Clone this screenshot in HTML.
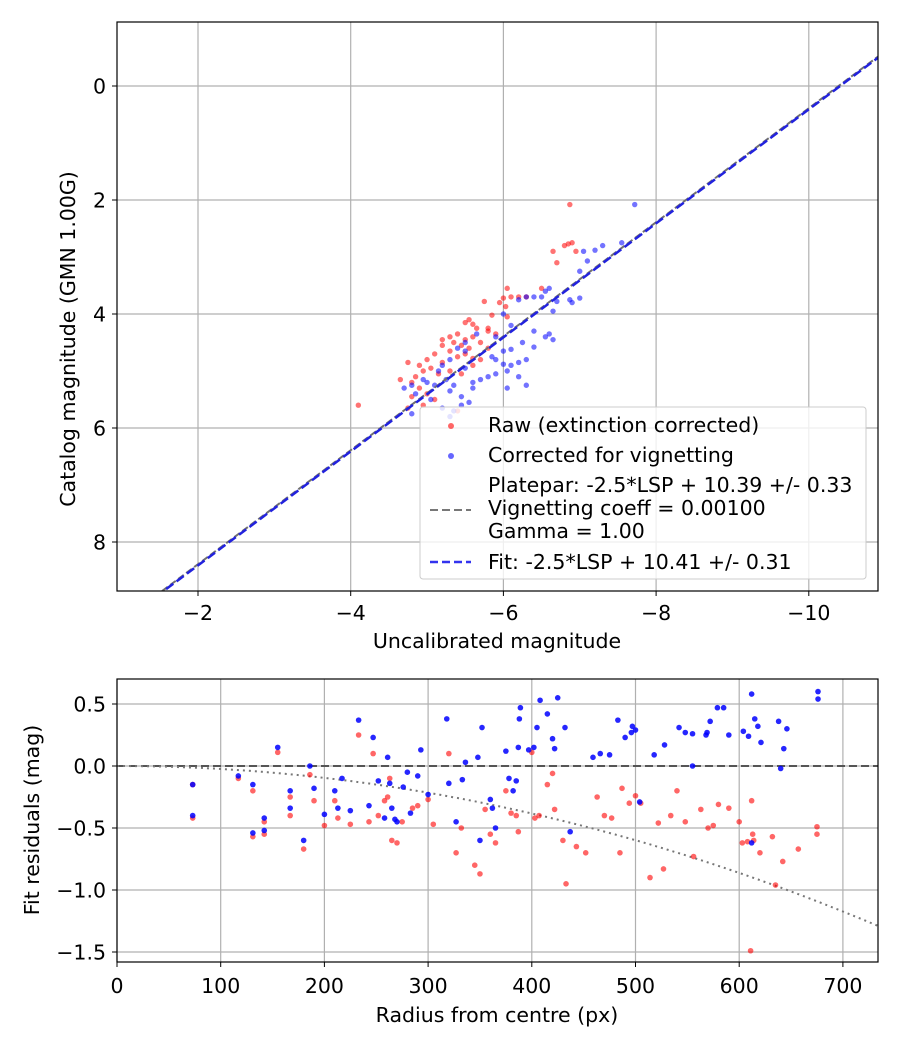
<!DOCTYPE html>
<html><head><meta charset="utf-8"><style>
body{margin:0;background:#fff}
svg{display:block;font-family:"DejaVu Sans","Liberation Sans",sans-serif}
text{font-size:20.5px;fill:#000}
</style></head><body>
<svg id="fig" width="900" height="1050" viewBox="0 0 900 1050">
<rect width="900" height="1050" fill="#fff"/>
<g id="topplot"></g>
<g id="botplot"></g>
</svg>
<script>
// ---- Top chart data ----
const topXTicks=[-2,-4,-6,-8,-10];
const topYTicks=[0,2,4,6,8];
const rawX=[-6.87,-6.85,-6.9,-6.8,-6.95,-6.65,-6.7,-6.05,-6.5,-6.3,-6.1,-6.0,-6.2,-5.95,-5.75,-6.03,-5.85,-6.05,-5.55,-5.6,-5.5,-5.65,-5.8,-5.9,-5.8,-5.4,-5.5,-5.3,-5.2,-5.35,-5.45,-5.55,-5.2,-5.3,-5.5,-5.1,-5.4,-5.6,-5.7,-5.0,-5.2,-4.9,-4.75,-5.05,-5.3,-4.95,-5.15,-4.85,-4.65,-4.8,-5.45,-4.9,-5.0,-4.8,-5.1,-4.75,-5.4,-4.1,-4.95,-5.6,-5.8,-5.6,-5.7];
const rawY=[2.08,2.77,2.75,2.8,2.9,2.9,3.1,3.55,3.55,3.7,3.7,3.72,3.7,3.8,3.78,3.87,4.02,4.05,4.1,4.18,4.15,4.25,4.3,4.35,4.25,4.35,4.45,4.4,4.45,4.5,4.55,4.6,4.55,4.65,4.7,4.7,4.75,4.78,4.8,4.8,4.85,4.9,4.85,4.95,5.0,5.0,5.05,5.1,5.15,5.2,5.05,5.3,5.4,5.45,5.5,5.65,5.7,5.6,5.6,4.9,4.6,4.4,4.5];
const corX=[-7.72,-7.55,-7.3,-7.05,-7.2,-7.1,-7.0,-6.6,-6.55,-6.4,-6.3,-6.5,-6.2,-6.7,-6.9,-6.87,-7.0,-6.65,-6.0,-6.1,-6.4,-6.55,-6.65,-6.6,-6.25,-6.4,-6.1,-6.0,-6.3,-5.9,-6.2,-5.85,-5.65,-5.5,-5.9,-6.1,-6.05,-6.2,-5.8,-5.7,-5.6,-5.9,-6.0,-5.5,-5.4,-5.3,-5.5,-5.6,-5.35,-5.2,-5.15,-5.25,-5.1,-5.0,-5.3,-5.45,-5.55,-5.45,-5.35,-4.95,-4.8,-4.7,-4.85,-5.05,-5.2,-4.8,-5.3,-6.05,-6.3];
const corY=[2.08,2.75,2.8,2.9,2.88,3.07,3.25,3.55,3.6,3.7,3.7,3.7,3.75,3.78,3.8,3.75,3.72,3.95,4.0,4.2,4.3,4.4,4.45,4.35,4.5,4.58,4.62,4.65,4.8,4.8,4.85,4.75,4.35,4.5,4.4,4.9,5.0,5.1,5.1,5.15,5.2,5.05,4.88,4.65,4.6,4.8,4.95,5.3,5.25,4.9,5.0,5.15,5.25,5.2,5.35,5.45,5.55,5.6,5.7,5.15,5.25,5.3,5.4,5.5,5.65,5.75,5.8,5.3,5.25];
const fitIntercept=10.41, plateIntercept=10.39;
// ---- Bottom chart data ----
const botXTicks=[0,100,200,300,400,500,600,700];
const botYTicks=[0.5,0,-0.5,-1.0,-1.5];
const redR=[73,73,117,131,131,142,142,155,167,167,180,186,190,200,210,213,225,233,243,247,252,258,261,263,265,270,275,285,290,300,305,320,327,332,345,350,355,360,365,375,380,385,387,400,403,407,415,420,422,430,433,443,452,463,470,477,485,487,494,500,505,514,522,527,534,540,548,556,563,570,575,580,590,600,608,611,612,613,614,620,632,635,642,657,675,675,603];
const redRes=[-0.42,-0.15,-0.1,-0.2,-0.57,-0.45,-0.55,0.11,-0.25,-0.4,-0.67,-0.07,-0.28,-0.48,-0.28,-0.42,-0.47,0.25,-0.45,0.1,-0.4,-0.28,-0.25,-0.1,-0.6,-0.62,-0.45,-0.34,-0.32,-0.27,-0.47,0.1,-0.7,-0.5,-0.8,-0.87,-0.35,-0.55,-0.62,-0.2,-0.38,-0.4,-0.53,0.11,-0.42,-0.4,-0.15,-0.06,-0.35,-0.6,-0.95,-0.65,-0.7,-0.25,-0.4,-0.42,-0.7,-0.18,-0.3,-0.24,-0.3,-0.9,-0.46,-0.83,-0.4,-0.2,-0.45,-0.73,-0.35,-0.5,-0.48,-0.31,-0.34,-0.45,-0.61,-1.49,-0.28,-0.55,-0.6,-0.7,-0.57,-0.96,-0.77,-0.67,-0.49,-0.55,-0.62];
const blueR=[73,73,117,131,131,142,142,155,167,167,180,186,190,200,210,213,217,225,233,243,247,252,258,261,263,265,268,270,276,280,283,290,293,300,318,320,327,333,336,348,350,352,360,362,365,375,378,382,385,387,388,389,397,402,405,408,415,420,422,425,432,437,459,466,475,483,490,496,497,500,504,518,528,542,548,555,555,568,569,572,579,585,590,604,609,612,615,621,618,638,640,643,646,676,676,612];
const blueRes=[-0.4,-0.15,-0.08,-0.15,-0.54,-0.42,-0.52,0.15,-0.2,-0.34,-0.6,0.0,-0.18,-0.39,-0.2,-0.34,-0.1,-0.36,0.37,-0.32,0.23,-0.12,-0.42,0.07,-0.14,-0.34,-0.43,-0.45,-0.17,-0.05,-0.38,-0.08,0.13,-0.23,0.38,-0.14,-0.45,-0.11,0.03,0.07,-0.6,0.31,-0.27,-0.34,-0.5,0.12,-0.1,-0.2,-0.12,0.15,0.38,0.47,0.13,0.15,0.31,0.53,0.42,0.22,0.14,0.55,0.31,-0.53,0.07,0.1,0.09,0.37,0.23,0.27,0.32,0.29,-0.29,0.09,0.17,0.31,0.27,0.26,0.0,0.25,0.27,0.36,0.47,0.47,0.25,0.28,0.24,-0.62,0.38,0.19,0.32,0.36,-0.02,0.14,0.3,0.6,0.54,0.58];
const vigScale=-1.29, vigRef=734;

const NS="http://www.w3.org/2000/svg";
function mk(parent,tag,attrs,txt){const e=document.createElementNS(NS,tag);for(const k in attrs)e.setAttribute(k,attrs[k]);if(txt!==undefined)e.textContent=txt;parent.appendChild(e);return e;}
function fmt(v,d){const s=v.toFixed(d);return v<0?'\u2212'+s.slice(1):s;}

// ---- TOP ----
const T={l:117,r:878,t:22,b:591};
const tx=v=>198+(-2-v)*76.35;
const ty=v=>86+v*57.0;
const topG=document.getElementById('topplot');
const tClip=mk(topG,'clipPath',{id:'tclip'});mk(tClip,'rect',{x:T.l,y:T.t,width:T.r-T.l,height:T.b-T.t});
topXTicks.forEach(v=>{
  const g=mk(topG,'line',{x1:tx(v),x2:tx(v),y1:T.t,y2:T.b,stroke:'#b0b0b0','stroke-width':1.2});
  
  
  mk(topG,'line',{x1:tx(v),x2:tx(v),y1:T.b,y2:T.b+5,stroke:'#000'});
  const t=mk(topG,'text',{x:tx(v),y:T.b+29,'text-anchor':'middle'},fmt(v,0));
  
  
});
topYTicks.forEach(v=>{
  const g=mk(topG,'line',{x1:T.l,x2:T.r,y1:ty(v),y2:ty(v),stroke:'#b0b0b0','stroke-width':1.2});
  
  
  mk(topG,'line',{x1:T.l-5,x2:T.l,y1:ty(v),y2:ty(v),stroke:'#000'});
  const t=mk(topG,'text',{x:T.l-11,y:ty(v)+7.5,'text-anchor':'end'},fmt(v,0));
  
  
});
const tpts=mk(topG,'g',{'clip-path':'url(#tclip)'});
rawX.forEach((x,i)=>{const c=mk(tpts,'circle',{cx:tx(x),cy:ty(rawY[i]),r:2.7,fill:'red','fill-opacity':0.55});
  
  });
corX.forEach((x,i)=>{const c=mk(tpts,'circle',{cx:tx(x),cy:ty(corY[i]),r:2.7,fill:'blue','fill-opacity':0.55});
  
  });
const xa=-0.9,xb=-11;
const pl=mk(tpts,'line',{x1:tx(xa),y1:ty(xa+plateIntercept),x2:tx(xb),y2:ty(xb+plateIntercept),stroke:'#707070','stroke-width':2,'stroke-dasharray':'7,3'});


const fl=mk(tpts,'line',{x1:tx(xa),y1:ty(xa+fitIntercept),x2:tx(xb),y2:ty(xb+fitIntercept),stroke:'#2222dd','stroke-width':2.5,'stroke-dasharray':'9,4'});


mk(topG,'rect',{x:T.l,y:T.t,width:T.r-T.l,height:T.b-T.t,fill:'none',stroke:'#000','stroke-width':1.2});
const xl=mk(topG,'text',{x:497,y:648,'text-anchor':'middle'},'Uncalibrated magnitude');


const yl=mk(topG,'text',{x:0,y:0,'text-anchor':'middle',transform:'translate(75,339) rotate(-90)'},'Catalog magnitude (GMN 1.00G)');


// legend
const lg=mk(topG,'g',{});


mk(lg,'rect',{x:420,y:407,width:446,height:172,rx:3,fill:'#fff','fill-opacity':0.8,stroke:'#ccc'});
mk(lg,'circle',{cx:451,cy:426,r:3,fill:'red','fill-opacity':0.6});
mk(lg,'text',{x:488,y:432},'Raw (extinction corrected)');
mk(lg,'circle',{cx:451,cy:456,r:3,fill:'blue','fill-opacity':0.6});
mk(lg,'text',{x:488,y:462},'Corrected for vignetting');
mk(lg,'line',{x1:430,x2:471,y1:510,y2:510,stroke:'#777','stroke-width':2,'stroke-dasharray':'8,4'});
mk(lg,'text',{x:488,y:492},'Platepar: -2.5*LSP + 10.39 +/- 0.33');
mk(lg,'text',{x:488,y:515},'Vignetting coeff = 0.00100');
mk(lg,'text',{x:488,y:538},'Gamma = 1.00');
mk(lg,'line',{x1:430,x2:471,y1:562,y2:562,stroke:'#3333ee','stroke-width':2.5,'stroke-dasharray':'8,4'});
mk(lg,'text',{x:488,y:569},'Fit: -2.5*LSP + 10.41 +/- 0.31');

// ---- BOTTOM ----
const B={l:117,r:878,t:679,b:962};
const bx=v=>117+v*1.037;
const by=v=>766-v*124;
const botG=document.getElementById('botplot');
const bClip=mk(botG,'clipPath',{id:'bclip'});mk(bClip,'rect',{x:B.l,y:B.t,width:B.r-B.l,height:B.b-B.t});
botXTicks.forEach(v=>{
  const g=mk(botG,'line',{x1:bx(v),x2:bx(v),y1:B.t,y2:B.b,stroke:'#b0b0b0','stroke-width':1.2});
  
  
  mk(botG,'line',{x1:bx(v),x2:bx(v),y1:B.b,y2:B.b+5,stroke:'#000'});
  const t=mk(botG,'text',{x:bx(v),y:B.b+31,'text-anchor':'middle'},String(v));
  
  
});
botYTicks.forEach(v=>{
  const g=mk(botG,'line',{x1:B.l,x2:B.r,y1:by(v),y2:by(v),stroke:'#b0b0b0','stroke-width':1.2});
  
  
  mk(botG,'line',{x1:B.l-5,x2:B.l,y1:by(v),y2:by(v),stroke:'#000'});
  const t=mk(botG,'text',{x:B.l-11,y:by(v)+7.5,'text-anchor':'end'},fmt(v,1));
  
  
});
const bpts=mk(botG,'g',{'clip-path':'url(#bclip)'});
const zl=mk(bpts,'line',{x1:B.l,x2:B.r,y1:by(0),y2:by(0),stroke:'#555','stroke-width':2,'stroke-dasharray':'8,4'});


let d='';for(let r=0;r<=740;r+=5){d+=(r?'L':'M')+bx(r).toFixed(1)+','+by(vigScale*(r/vigRef)**2).toFixed(1);}
const vc=mk(bpts,'path',{d:d,fill:'none',stroke:'#777','stroke-width':2,'stroke-dasharray':'2,4'});


redR.forEach((r,i)=>{const c=mk(bpts,'circle',{cx:bx(r),cy:by(redRes[i]),r:2.8,fill:'red','fill-opacity':0.6});
  
  });
blueR.forEach((r,i)=>{const c=mk(bpts,'circle',{cx:bx(r),cy:by(blueRes[i]),r:2.8,fill:'blue','fill-opacity':0.85});
  
  });
mk(botG,'rect',{x:B.l,y:B.t,width:B.r-B.l,height:B.b-B.t,fill:'none',stroke:'#000','stroke-width':1.2});
const bxl=mk(botG,'text',{x:497,y:1022,'text-anchor':'middle'},'Radius from centre (px)');


const byl=mk(botG,'text',{x:0,y:0,'text-anchor':'middle',transform:'translate(39,820) rotate(-90)'},'Fit residuals (mag)');


</script>
</body></html>
